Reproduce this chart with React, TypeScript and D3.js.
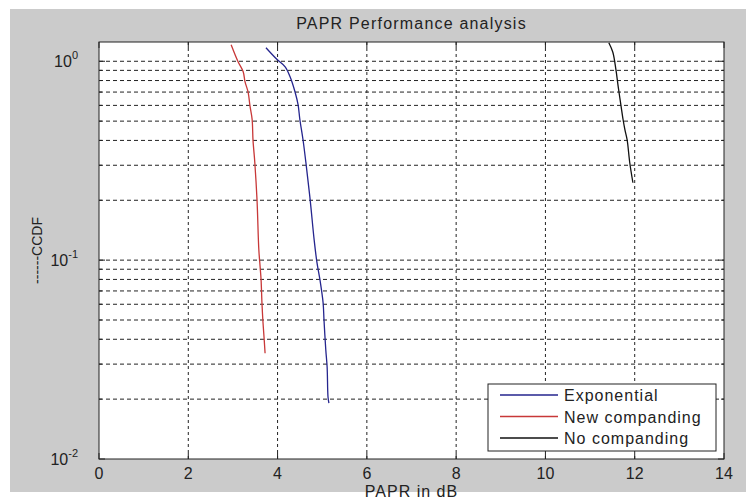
import React, { useEffect, useRef } from "react";
import * as d3 from "d3";

// CCDF curves (PAPR in dB vs CCDF)
const newCompX = [2.96, 3.11, 3.23, 3.27, 3.34, 3.38, 3.43, 3.45, 3.49, 3.54, 3.58, 3.61, 3.63, 3.65, 3.67, 3.7, 3.72];
const newCompY = [1.21, 1.0, 0.885, 0.79, 0.7, 0.6, 0.51, 0.4, 0.31, 0.2, 0.113, 0.092, 0.08, 0.061, 0.05, 0.04, 0.034];

const expX = [3.74, 3.99, 4.17, 4.28, 4.39, 4.46, 4.5, 4.57, 4.64, 4.73, 4.82, 4.88, 4.95, 5.02, 5.04, 5.08, 5.11, 5.13, 5.15];
const expY = [1.17, 1.02, 0.938, 0.836, 0.703, 0.604, 0.508, 0.403, 0.302, 0.201, 0.126, 0.098, 0.0795, 0.061, 0.05, 0.0354, 0.029, 0.0205, 0.0191];

const noCompX = [11.42, 11.51, 11.58, 11.63, 11.69, 11.74, 11.78, 11.83, 11.89, 11.96];
const noCompY = [1.24, 1.11, 0.905, 0.745, 0.604, 0.508, 0.453, 0.403, 0.308, 0.245];

const xTicks = [0, 2, 4, 6, 8, 10, 12, 14];
const yMajor = [0.01, 0.1, 1];
const yMinor = [0.02, 0.03, 0.04, 0.05, 0.06, 0.07, 0.08, 0.09, 0.2, 0.3, 0.4, 0.5, 0.6, 0.7, 0.8, 0.9];
const yExponents = ["0", "-1", "-2"];

const seriesNames = ["Exponential", "New companding", "No companding"];
const seriesColors = ["#25258e", "#c83838", "#111111"];

const App = () => {
  const ref = useRef<HTMLDivElement>(null);

  useEffect(() => {
    document.body.style.margin = "0";
    const W = 746;
    const H = 502;
    const margin = { left: 99, top: 42, right: 22, bottom: 43 };
    const width = W - margin.left - margin.right;
    const height = H - margin.top - margin.bottom;
    const font = "Liberation Sans, Arial, sans-serif";

    d3.select(ref.current).selectAll("*").remove();

    const root = d3
      .select(ref.current)
      .append("svg")
      .attr("width", W)
      .attr("height", H)
      .style("display", "block");

    root.append("rect").attr("width", W).attr("height", H).attr("fill", "#fff");
    root
      .append("rect")
      .attr("x", 10)
      .attr("y", 9)
      .attr("width", W - 10)
      .attr("height", 483)
      .attr("fill", "#cbcbcb");

    const svg = root.append("g").attr("transform", `translate(${margin.left}, ${margin.top})`);

    const x = d3.scaleLinear().domain([0, 14]).range([0, width]);
    const y = d3.scaleLog().domain([0.01, 1.25]).range([height, 0]);

    svg.append("rect").attr("width", width).attr("height", height).attr("fill", "#fff");

    // grid
    const grid = svg.append("g").attr("stroke", "#222");
    grid
      .selectAll("line.gx")
      .data(xTicks.slice(1, -1))
      .join("line")
      .attr("x1", (d) => x(d))
      .attr("x2", (d) => x(d))
      .attr("y1", 0)
      .attr("y2", height)
      .attr("stroke-dasharray", "3,3");
    grid
      .selectAll("line.gy")
      .data([...yMinor, 0.1, 1])
      .join("line")
      .attr("x1", 0)
      .attr("x2", width)
      .attr("y1", (d) => y(d))
      .attr("y2", (d) => y(d))
      .attr("stroke-dasharray", "4,3");

    // ticks (inward, all four sides)
    const ticks = svg.append("g").attr("stroke", "#222");
    xTicks.forEach((t) => {
      ticks.append("line").attr("x1", x(t)).attr("x2", x(t)).attr("y1", height).attr("y2", height - 6);
      ticks.append("line").attr("x1", x(t)).attr("x2", x(t)).attr("y1", 0).attr("y2", 6);
    });
    [...yMajor, ...yMinor].forEach((t) => {
      const len = yMajor.includes(t) ? 6 : 3;
      ticks.append("line").attr("x1", 0).attr("x2", len).attr("y1", y(t)).attr("y2", y(t));
      ticks.append("line").attr("x1", width).attr("x2", width - len).attr("y1", y(t)).attr("y2", y(t));
    });

    // curves
    const line = d3
      .line<[number, number]>()
      .x((d) => x(d[0]))
      .y((d) => y(d[1]))
      .curve(d3.curveCatmullRom.alpha(0.5));
    svg
      .append("clipPath")
      .attr("id", "plotclip")
      .append("rect")
      .attr("width", width)
      .attr("height", height);
    const series: [number, number][][] = [
      expX.map((v, i) => [v, expY[i]]),
      newCompX.map((v, i) => [v, newCompY[i]]),
      noCompX.map((v, i) => [v, noCompY[i]]),
    ];
    svg
      .append("g")
      .attr("clip-path", "url(#plotclip)")
      .selectAll("path")
      .data(series)
      .join("path")
      .attr("d", (d) => line(d))
      .attr("fill", "none")
      .attr("stroke", (d, i) => seriesColors[i])
      .attr("stroke-width", 1.3);

    // plot border
    svg
      .append("rect")
      .attr("width", width)
      .attr("height", height)
      .attr("fill", "none")
      .attr("stroke", "#222");

    // x tick labels
    svg
      .append("g")
      .selectAll("text")
      .data(xTicks)
      .join("text")
      .attr("x", (d) => x(d))
      .attr("y", height + 20)
      .attr("text-anchor", "middle")
      .attr("font-family", font)
      .attr("font-size", 16)
      .attr("fill", "#222")
      .text((d) => d);

    // y tick labels 10^n
    const ylab = svg
      .append("g")
      .selectAll("text")
      .data(yMajor.slice().reverse())
      .join("text")
      .attr("x", -21)
      .attr("y", (d) => y(d) + 6)
      .attr("text-anchor", "end")
      .attr("font-family", font)
      .attr("font-size", 16)
      .attr("fill", "#222");
    ylab.append("tspan").text("10");
    ylab
      .append("tspan")
      .attr("dy", -8)
      .attr("font-size", 11)
      .text((d, i) => yExponents[i]);

    // title and axis labels
    svg
      .append("text")
      .attr("x", width / 2)
      .attr("y", -13)
      .attr("text-anchor", "middle")
      .attr("font-family", font)
      .attr("font-size", 16)
      .attr("letter-spacing", 1.2)
      .attr("fill", "#222")
      .text("PAPR Performance analysis");
    svg
      .append("text")
      .attr("x", width / 2)
      .attr("y", height + 38)
      .attr("text-anchor", "middle")
      .attr("font-family", font)
      .attr("font-size", 16)
      .attr("letter-spacing", 1)
      .attr("fill", "#222")
      .text("PAPR in dB");
    svg
      .append("text")
      .attr("transform", `translate(${42 - margin.left}, ${height / 2}) rotate(-90)`)
      .attr("text-anchor", "middle")
      .attr("font-family", font)
      .attr("font-size", 14)
      .attr("fill", "#222")
      .text("------CCDF");

    // legend
    const lg = root.append("g").attr("transform", "translate(488, 384)");
    lg.append("rect")
      .attr("width", 228)
      .attr("height", 67)
      .attr("fill", "#fff")
      .attr("stroke", "#222");
    const rows = lg
      .selectAll("g")
      .data(seriesNames)
      .join("g")
      .attr("transform", (d, i) => `translate(0, ${11 + i * 21.5})`);
    rows
      .append("line")
      .attr("x1", 12)
      .attr("x2", 70)
      .attr("stroke", (d, i) => seriesColors[i])
      .attr("stroke-width", 1.3);
    rows
      .append("text")
      .attr("x", 76)
      .attr("y", 6)
      .attr("font-family", font)
      .attr("font-size", 16)
      .attr("letter-spacing", 1)
      .attr("fill", "#222")
      .text((d) => d);
  }, []);

  return <div ref={ref} />;
};

export default App;
